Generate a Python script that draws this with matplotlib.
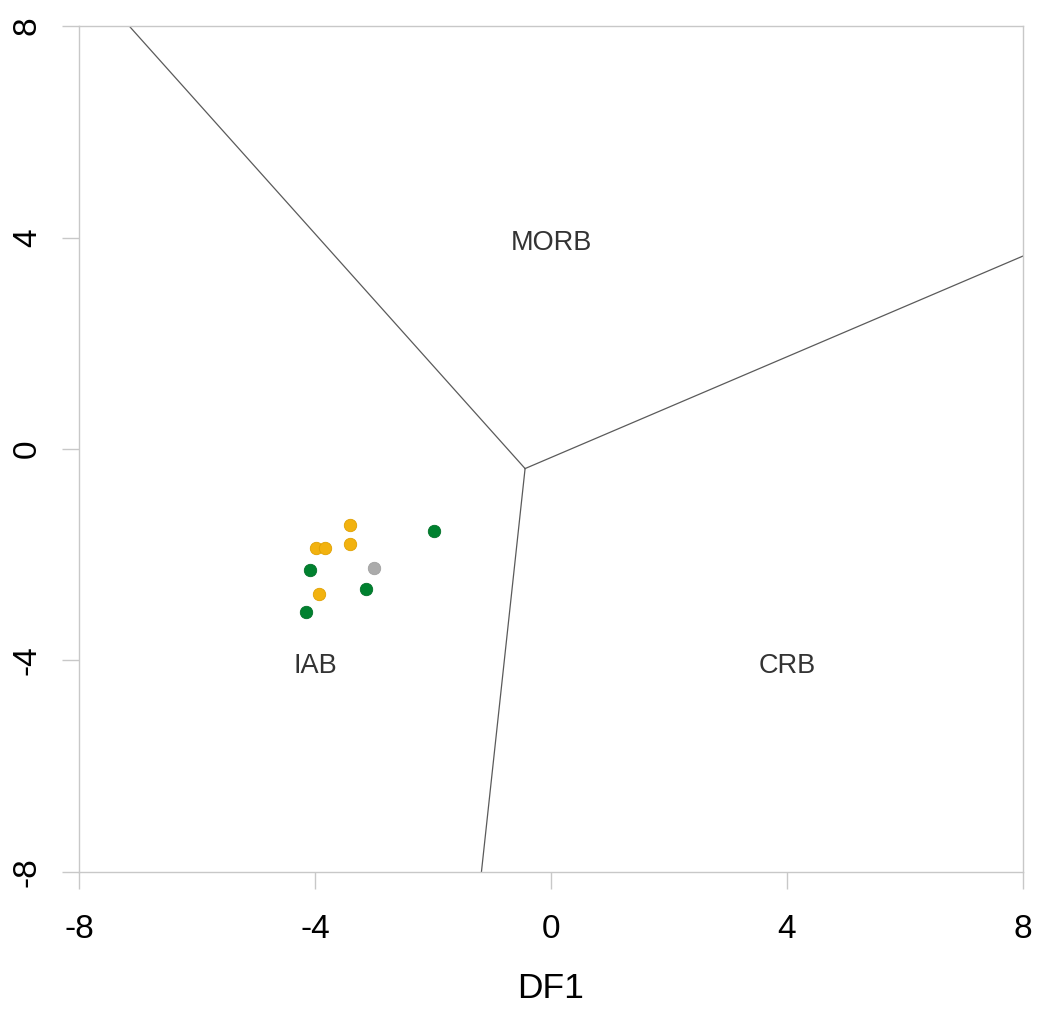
import matplotlib
matplotlib.use("Agg")
import matplotlib.pyplot as plt

plt.rcParams['font.family'] = ['Liberation Sans', 'DejaVu Sans']

# Field boundaries (DF1, DF2): three arms meeting at a triple junction
junction = (-0.44, -0.37)
arm_ends = [(-7.15, 8.0), (8.0, 3.65), (-1.18, -8.0)]

# Sample groups
orange_x = [-3.41, -3.99, -3.83, -3.41, -3.94]
orange_y = [-1.44, -1.87, -1.87, -1.80, -2.74]
green_x = [-1.99, -4.09, -3.14, -4.15]
green_y = [-1.55, -2.29, -2.64, -3.09]
gray_x = [-3.00]
gray_y = [-2.26]

# Field labels
field_names = ["MORB", "IAB", "CRB"]
field_x = [0.0, -4.0, 4.0]
field_y = [3.9, -4.1, -4.1]

ticks = [-8, -4, 0, 4, 8]

fig = plt.figure(figsize=(10.4, 10.09), dpi=100)
ax = fig.add_axes([0.0760, 0.1358, 0.9077, 0.8384])

for ex, ey in arm_ends:
    ax.plot([junction[0], ex], [junction[1], ey], color="#5a5a5a", lw=0.9, zorder=2)

ax.scatter(orange_x, orange_y, s=80, color="#F2B20F", edgecolors="#E0A000",
           linewidths=0.6, zorder=3)
ax.scatter(green_x, green_y, s=80, color="#00812F", edgecolors="#007028",
           linewidths=0.6, zorder=3)
ax.scatter(gray_x, gray_y, s=80, color="#ABABAB", edgecolors="#A0A0A0",
           linewidths=0.6, zorder=3)

for name, tx, ty in zip(field_names, field_x, field_y):
    ax.text(tx, ty, name, ha="center", va="center", fontsize=19.5, color="#333333")

ax.set_xlim(-8, 8)
ax.set_ylim(-8, 8)
ax.set_xticks(ticks)
ax.set_yticks(ticks)
ax.set_xticklabels([str(t) for t in ticks], fontsize=24)
ax.set_yticklabels([str(t) for t in ticks], fontsize=24, rotation=90, va="center")

for sp in ax.spines.values():
    sp.set_color("#C8C8C8")
    sp.set_linewidth(1.0)
ax.tick_params(axis="both", length=12, width=1.0, color="#C8C8C8")
ax.tick_params(axis="x", pad=18)
ax.tick_params(axis="y", pad=14)

ax.set_xlabel("DF1", fontsize=25.5, labelpad=20)

fig.savefig("out.png", dpi=100, facecolor="white")
